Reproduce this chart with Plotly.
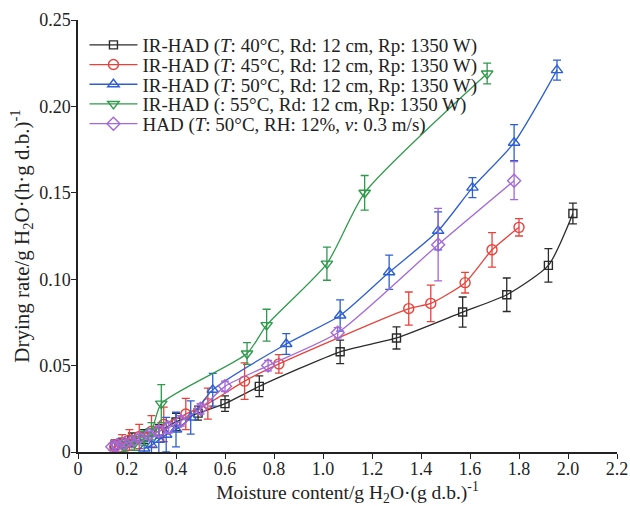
import plotly.graph_objects as go

# ---- data ----
x40 = [0.15, 0.18, 0.22, 0.27, 0.33, 0.40, 0.49, 0.60, 0.74, 1.07, 1.30, 1.57, 1.75, 1.92, 2.02]
y40 = [0.004, 0.005, 0.007, 0.009, 0.012, 0.0174, 0.0225, 0.028, 0.038, 0.058, 0.066, 0.081, 0.091, 0.108, 0.138]
e40 = [0.003, 0.003, 0.004, 0.004, 0.004, 0.005, 0.004, 0.0045, 0.006, 0.0068, 0.0064, 0.0087, 0.0097, 0.0097, 0.006]

x45 = [0.15, 0.18, 0.21, 0.25, 0.30, 0.35, 0.44, 0.53, 0.68, 0.82, 1.35, 1.44, 1.58, 1.69, 1.80]
y45 = [0.003, 0.005, 0.007, 0.009, 0.012, 0.016, 0.022, 0.028, 0.041, 0.051, 0.083, 0.086, 0.098, 0.117, 0.130]
e45 = [0.004, 0.005, 0.006, 0.007, 0.009, 0.010, 0.009, 0.009, 0.0106, 0.0053, 0.0096, 0.0106, 0.006, 0.010, 0.005]

x50 = [0.27, 0.30, 0.33, 0.36, 0.40, 0.46, 0.55, 0.85, 1.07, 1.27, 1.47, 1.61, 1.78, 1.955]
y50 = [0.002, 0.004, 0.007, 0.010, 0.013, 0.020, 0.036, 0.0625, 0.079, 0.104, 0.128, 0.153, 0.179, 0.221]
e50 = [0.004, 0.005, 0.008, 0.010, 0.010, 0.0096, 0.0095, 0.006, 0.009, 0.0099, 0.011, 0.0058, 0.0104, 0.0058]

x55 = [0.19, 0.23, 0.27, 0.30, 0.34, 0.69, 0.77, 1.016, 1.17, 1.67]
y55 = [0.003, 0.005, 0.008, 0.012, 0.028, 0.057, 0.0734, 0.109, 0.150, 0.219]
e55 = [0.003, 0.004, 0.004, 0.005, 0.011, 0.0063, 0.0092, 0.0096, 0.010, 0.006]

xhad = [0.14, 0.16, 0.19, 0.22, 0.25, 0.29, 0.33, 0.37, 0.42, 0.50, 0.60, 0.776, 1.06, 1.47, 1.78]
yhad = [0.003, 0.004, 0.005, 0.006, 0.008, 0.010, 0.012, 0.014, 0.018, 0.025, 0.038, 0.050, 0.069, 0.120, 0.157]
ehad = [0.002, 0.002, 0.002, 0.002, 0.002, 0.002, 0.003, 0.003, 0.003, 0.003, 0.003, 0.003, 0.003, 0.021, 0.011]

names = [
    "IR-HAD (<i>T</i>: 40°C, Rd: 12 cm, Rp: 1350 W)",
    "IR-HAD (<i>T</i>: 45°C, Rd: 12 cm, Rp: 1350 W)",
    "IR-HAD (<i>T</i>: 50°C, Rd: 12 cm, Rp: 1350 W)",
    "IR-HAD (: 55°C, Rd: 12 cm, Rp: 1350 W)",
    "HAD (<i>T</i>: 50°C, RH: 12%, <i>v</i>: 0.3 m/s)",
]
xticks = [0, 0.2, 0.4, 0.6, 0.8, 1.0, 1.2, 1.4, 1.6, 1.8, 2.0, 2.2]
xticktext = ["0", "0.2", "0.4", "0.6", "0.8", "1.0", "1.2", "1.4", "1.6", "1.8", "2.0", "2.2"]
yticks = [0, 0.05, 0.10, 0.15, 0.20, 0.25]
yticktext = ["0", "0.05", "0.10", "0.15", "0.20", "0.25"]

series = [
    (x40, y40, e40, "#2b2b2b", "square-open", 8),
    (x45, y45, e45, "#e8423c", "circle-open", 10),
    (x50, y50, e50, "#2d5fd3", "triangle-up-open", 10),
    (x55, y55, e55, "#2f9a4c", "triangle-down-open", 10),
    (xhad, yhad, ehad, "#a468d8", "diamond-open", 10),
]

font = "Liberation Serif, Times New Roman, serif"
W, H = 630, 506
ML, MR, MT, MB = 78, 13, 20, 54
plot_h = H - MT - MB

fig = go.Figure()
legend_layouts = {}
for i, ((xs, ys, es, col, sym, sz), nm) in enumerate(zip(series, names)):
    lg = "legend" if i == 0 else f"legend{i + 1}"
    fig.add_trace(go.Scatter(
        x=xs, y=ys, name=nm, mode="lines+markers", legend=lg,
        line=dict(color=col, width=1.3, shape="spline", smoothing=0.6),
        marker=dict(symbol=sym, size=sz, color=col, line=dict(width=1.4, color=col)),
        error_y=dict(type="data", array=es, visible=True, color=col, thickness=1.3, width=4),
    ))
    row_center_px = 45 + 19.7 * i
    legend_layouts[lg] = dict(
        x=0.012, y=(H - MB - row_center_px) / plot_h, xanchor="left", yanchor="middle",
        bgcolor="rgba(0,0,0,0)", font=dict(family=font, size=19, color="#222"),
        tracegroupgap=0, itemwidth=48,
    )

fig.update_layout(
    width=W, height=H,
    margin=dict(l=ML, r=MR, t=MT, b=MB),
    paper_bgcolor="white", plot_bgcolor="white",
    font=dict(family=font, size=17, color="#222"),
    showlegend=True,
    xaxis=dict(range=[0, 2.2], tickvals=xticks, ticktext=xticktext, automargin=False,
               showline=True, linecolor="#222", linewidth=1.5, mirror=False,
               ticks="outside", ticklen=5, tickcolor="#222", tickwidth=1.3,
               ticklabelstandoff=-5,
               showgrid=False, zeroline=False, tickfont=dict(size=18),
               title=dict(text="Moisture content/g H<sub>2</sub>O·(g d.b.)<sup>-1</sup>",
                          font=dict(size=19.5), standoff=6)),
    yaxis=dict(range=[0, 0.25], tickvals=yticks, ticktext=yticktext, automargin=False,
               showline=True, linecolor="#222", linewidth=1.5, mirror=False,
               ticks="outside", ticklen=5, tickcolor="#222", tickwidth=1.3,
               ticklabelstandoff=-3,
               showgrid=False, zeroline=False, tickfont=dict(size=18),
               title=dict(text="Drying rate/g H<sub>2</sub>O·(h·g d.b.)<sup>-1</sup>",
                          font=dict(size=21), standoff=4)),
)
fig.update_layout(**legend_layouts)

fig.write_html("out.html")
